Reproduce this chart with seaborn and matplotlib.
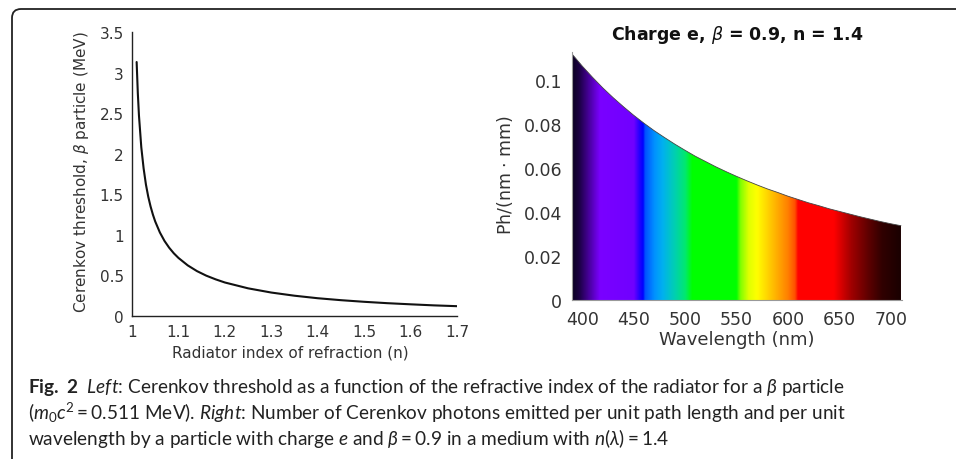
import matplotlib
matplotlib.use("Agg")
import numpy as np
import matplotlib.pyplot as plt
import seaborn as sns
from matplotlib.colors import LinearSegmentedColormap
from matplotlib.patches import FancyBboxPatch
from matplotlib.transforms import IdentityTransform

# ---------------- data ----------------
n_index = [1.01, 1.0125, 1.015, 1.02, 1.025, 1.03, 1.035, 1.04, 1.045, 1.05,
           1.06, 1.07, 1.08, 1.09, 1.10, 1.12, 1.14, 1.16, 1.18, 1.20,
           1.25, 1.30, 1.35, 1.40, 1.45, 1.50, 1.55, 1.60, 1.65, 1.70]
threshold_mev = [3.13, 2.75, 2.47, 2.08, 1.82, 1.62, 1.47, 1.35, 1.25, 1.165,
                 1.03, 0.925, 0.842, 0.773, 0.716, 0.624, 0.553, 0.497, 0.452, 0.413,
                 0.341, 0.289, 0.250, 0.219, 0.195, 0.175, 0.158, 0.144, 0.131, 0.121]

wavelength_nm = [390, 400, 410, 420, 430, 440, 450, 460, 470, 480, 490,
                 500, 510, 520, 530, 540, 550, 560, 570, 580, 590,
                 600, 610, 620, 630, 640, 650, 660, 670, 680, 690, 700, 710]
photons = [0.1116, 0.1061, 0.1010, 0.0962, 0.0918, 0.0877, 0.0838, 0.0802, 0.0768, 0.0737, 0.0707,
           0.0679, 0.0652, 0.0628, 0.0604, 0.0582, 0.0561, 0.0541, 0.0522, 0.0504, 0.0488,
           0.0471, 0.0456, 0.0441, 0.0428, 0.0414, 0.0402, 0.0390, 0.0378, 0.0367, 0.0356, 0.0346, 0.0337]

left_xticks = [1, 1.1, 1.2, 1.3, 1.4, 1.5, 1.6, 1.7]
left_yticks = [0, 0.5, 1, 1.5, 2, 2.5, 3, 3.5]
right_xticks = [400, 450, 500, 550, 600, 650, 700]
right_yticks = [0, 0.02, 0.04, 0.06, 0.08, 0.1]

# spectrum colour stops (wavelength, colour)
spec_stops = [(390, "#0a0020"), (397, "#1c0045"), (417, "#7a00ff"), (450, "#7000ff"),
              (455, "#2a00ff"), (459, "#0000ff"), (461, "#0050ff"), (470, "#0090ff"),
              (478, "#00b0f0"), (490, "#00d0b0"), (500, "#00e870"), (507, "#00ff00"),
              (550, "#00ff00"), (554, "#80ff00"), (562, "#e0ff00"), (570, "#ffff00"),
              (585, "#ffc000"), (600, "#ff8000"), (607, "#ff5000"), (610, "#ff0000"),
              (645, "#ff0000"), (662, "#a00000"), (678, "#600000"), (692, "#300000"),
              (710, "#1a0000")]

# ---------------- figure ----------------
sns.set_style("white")
plt.rcParams["font.family"] = ["DejaVu Sans"]
plt.rcParams["mathtext.fontset"] = "custom"
plt.rcParams["mathtext.rm"] = "Lato"
plt.rcParams["mathtext.it"] = "Lato:italic"
plt.rcParams["mathtext.bf"] = "Lato:bold"

W, H = 956, 460
fig = plt.figure(figsize=(W / 100, H / 100), dpi=100)
fig.patch.set_facecolor("white")
TXT = "#333333"

def fmt(v):
    return "{:g}".format(v)

# ---- left panel ----
ax1 = fig.add_axes([132 / W, (H - 317) / H, 325 / W, 284 / H])
sns.lineplot(x=n_index, y=threshold_mev, ax=ax1, color="#111111", linewidth=1.5)
ax1.set_xlim(1, 1.7)
ax1.set_ylim(0, 3.5)
ax1.set_xticks(left_xticks)
ax1.set_xticklabels([fmt(v) for v in left_xticks])
ax1.set_yticks(left_yticks)
ax1.set_yticklabels([fmt(v) for v in left_yticks])
for s in ["top", "right"]:
    ax1.spines[s].set_visible(False)
for s in ["left", "bottom"]:
    ax1.spines[s].set_color("#222222")
    ax1.spines[s].set_linewidth(1.0)
ax1.tick_params(direction="in", length=4, width=0.8, color="#222222",
                labelsize=11, labelcolor=TXT, pad=6)
ax1.set_xlabel("Radiator index of refraction (n)", fontsize=11, color=TXT, va="center")
ax1.set_ylabel(r"Cerenkov threshold, $\beta$ particle (MeV)", fontsize=11, color=TXT,
               va="center", math_fontfamily="dejavusans")
ax1.xaxis.set_label_coords(0.486, -0.127)
ax1.yaxis.set_label_coords(-0.154, 0.51)

# ---- right panel ----
ax2 = fig.add_axes([572 / W, (H - 301) / H, 330 / W, 248 / H])
cmap = LinearSegmentedColormap.from_list(
    "spectrum", [((w - 390) / (710 - 390), c) for w, c in spec_stops], N=1024)
poly = ax2.fill_between(wavelength_nm, photons, 0, facecolor="none", edgecolor="none")
grad = np.linspace(390, 710, 1200)[None, :]
im = ax2.imshow(grad, extent=[390, 710, 0, max(photons)], aspect="auto",
                cmap=cmap, vmin=390, vmax=710, origin="lower", interpolation="bilinear")
im.set_clip_path(poly.get_paths()[0], ax2.transData)
sns.lineplot(x=wavelength_nm, y=photons, ax=ax2, color="#444444", linewidth=0.6)
ax2.set_xlim(390, 711)
ax2.set_ylim(0, 0.1125)
ax2.set_xticks(right_xticks)
ax2.set_xticklabels([fmt(v) for v in right_xticks])
ax2.set_yticks(right_yticks)
ax2.set_yticklabels([fmt(v) for v in right_yticks])
for s in ["top", "right"]:
    ax2.spines[s].set_visible(False)
for s in ["left", "bottom"]:
    ax2.spines[s].set_color("#999999")
    ax2.spines[s].set_linewidth(0.8)
ax2.tick_params(length=0, labelsize=12.5, labelcolor=TXT, pad=7)
ax2.set_xlabel("Wavelength (nm)", fontsize=13, color=TXT, va="center")
ax2.set_ylabel(r"Ph/(nm $\cdot$ mm)", fontsize=12.5, color=TXT, va="center",
               math_fontfamily="dejavusans")
ax2.xaxis.set_label_coords(0.5, -0.157)
ax2.yaxis.set_label_coords(-0.203, 0.508)
ax2.set_title(r"Charge e, $\beta$ = 0.9, n = 1.4", fontsize=12.5, fontweight="bold",
              color="#111111", pad=9, math_fontfamily="dejavusans")

# ---- border ----
border = FancyBboxPatch((12, -60), 1200, (H - 10) + 60,
                        boxstyle="round,pad=0,rounding_size=9",
                        transform=IdentityTransform(), facecolor="none",
                        edgecolor="#222222", linewidth=1.3, clip_on=False)
fig.add_artist(border)

# ---- caption ----
cap_lines = [
    r"$\mathbf{Fig.\ 2}$  $\mathit{Left}$: Cerenkov threshold as a function of the refractive index of the radiator for a $\beta$ particle",
    r"($m_0c^2 = 0.511$ MeV). $\mathit{Right}$: Number of Cerenkov photons emitted per unit path length and per unit",
    r"wavelength by a particle with charge $e$ and $\beta = 0.9$ in a medium with $n(\lambda) = 1.4$",
]
cap_y = [388, 413, 438]
renderer = fig.canvas.get_renderer()
size0 = 11.0
probe = fig.text(28 / W, 1 - cap_y[0] / H, cap_lines[0], fontsize=size0,
                 family=["Lato", "DejaVu Sans"], math_fontfamily="custom")
wpx = probe.get_window_extent(renderer).width
probe.remove()
cap_size = size0 * 817.0 / wpx
for line, y in zip(cap_lines, cap_y):
    fig.text(28 / W, 1 - y / H, line, fontsize=cap_size, color="#222222",
             family=["Lato", "DejaVu Sans"], math_fontfamily="custom",
             ha="left", va="center")

fig.savefig("out.png", dpi=100, facecolor="white")
